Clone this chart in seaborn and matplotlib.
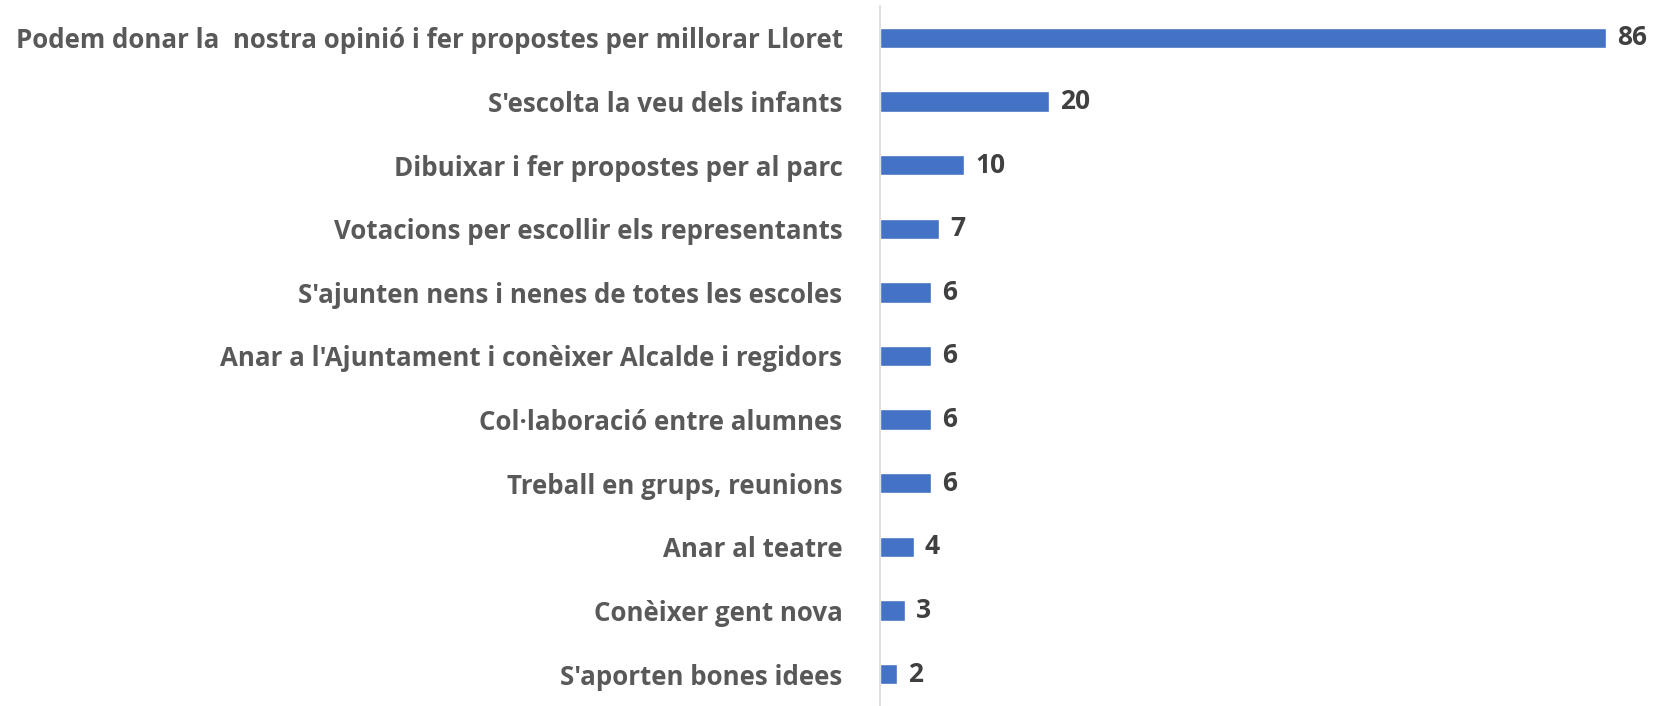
import matplotlib
matplotlib.use('Agg')
import matplotlib.pyplot as plt
import seaborn as sns
import pandas as pd

categories = [
    "Podem donar la  nostra opinió i fer propostes per millorar Lloret",
    "S'escolta la veu dels infants",
    "Dibuixar i fer propostes per al parc",
    "Votacions per escollir els representants",
    "S'ajunten nens i nenes de totes les escoles",
    "Anar a l'Ajuntament i conèixer Alcalde i regidors",
    "Col·laboració entre alumnes",
    "Treball en grups, reunions",
    "Anar al teatre",
    "Conèixer gent nova",
    "S'aporten bones idees",
]
values = [86, 20, 10, 7, 6, 6, 6, 6, 4, 3, 2]

df = pd.DataFrame({"cat": categories, "val": values})

sns.set_style("white")
plt.rcParams['font.family'] = ['Open Sans', 'DejaVu Sans']

fig = plt.figure(figsize=(16.57, 7.06), dpi=100)
ax = fig.add_axes([880 / 1657, 0.0, 1 - 880 / 1657, 700 / 706])

sns.barplot(data=df, x="val", y="cat", color="#4472C4", width=0.32,
            saturation=1, ax=ax, orient="h")

ax.set_xlim(0, 92)
ax.set_ylim(len(categories) - 0.5, -0.5)
ax.set_xlabel("")
ax.set_ylabel("")
ax.set_xticks([])
for s in ["top", "right", "bottom"]:
    ax.spines[s].set_visible(False)
ax.spines["left"].set_color("#D9D9D9")
ax.spines["left"].set_linewidth(1.2)
ax.tick_params(axis="y", length=0, pad=27)
for lab in ax.get_yticklabels():
    lab.set_fontsize(18.6)
    lab.set_fontweight("bold")
    lab.set_color("#595959")

for i, v in enumerate(values):
    ax.text(v + 1.3, i, str(v), va="center", ha="left", fontsize=19,
            fontweight="bold", color="#404040")

fig.savefig("out.png", dpi=100)
